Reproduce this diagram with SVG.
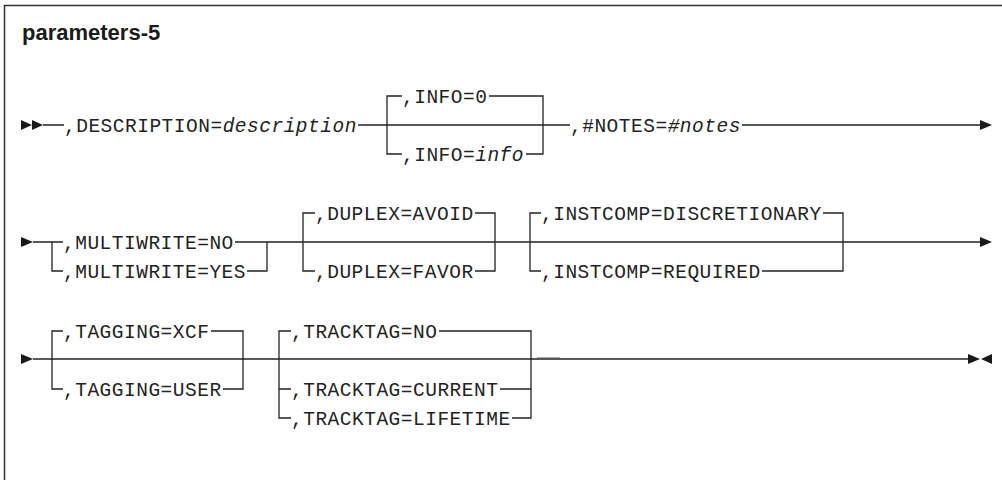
<svg xmlns="http://www.w3.org/2000/svg" width="1002" height="480" viewBox="0 0 1002 480">
<style>
.t{font-family:"Liberation Mono","DejaVu Sans Mono",monospace;font-size:19.5px;letter-spacing:0.5px;fill:#222}
.i{font-style:italic}
.title{font-family:"Liberation Sans",Arial,sans-serif;font-weight:bold;font-size:22px;fill:#1a1a1a}
.ln{stroke:#222;stroke-width:1.3;fill:none}
.ah{fill:#1a1a1a;stroke:none}
.frame{stroke:#333;stroke-width:1.5;fill:none}
</style>
<rect width="1002" height="480" fill="#fff"/>
<path class="frame" d="M4.5,480 V5.5 H1002"/>
<g id="title"><text class="title" x="22" y="40">parameters-5</text></g>

<g id="connectors">
  <!-- row 1 -->
  <path class="ah" d="M21,120 L32,125 L21,130 Z M32,120 L43,125 L32,130 Z"/>
  <path class="ln" d="M43,125 H64 M358,125 H570 M742,125 H980"/>
  <path class="ln" d="M387,125 V154 H402 M387,125 V96 H402 M489,96 H543 V154 H526"/>
  <path class="ah" d="M980,120 L992,125 L980,130 Z"/>
  <!-- row 2 -->
  <path class="ah" d="M21,237 L33,242 L21,247 Z"/>
  <path class="ln" d="M33,242 H63 M235,242 H980"/>
  <path class="ln" d="M52,242 V271 H63 M247,271 H267 V242"/>
  <path class="ln" d="M303,242 V213 H315 M303,242 V271 H315 M475,213 H495 V271 H475"/>
  <path class="ln" d="M530,242 V213 H541 M530,242 V271 H541 M823,213 H843 V271 H762"/>
  <path class="ah" d="M980,237 L992,242 L980,247 Z"/>
  <!-- row 3 -->
  <path class="ah" d="M21,354 L33,359 L21,364 Z"/>
  <path class="ln" d="M33,359 H968"/>
  <path class="ln" d="M52,359 V331 H63 M52,359 V389 H63 M211,331 H243 V389 H223"/>
  <path class="ln" d="M279,359 V331 H291 M279,359 V418 H291 M279,389 H291 M439,331 H531 V418 H512 M500,389 H531"/>
  <path d="M537,358.3 H560" stroke="#555" stroke-width="1.6"/>
  <path class="ah" d="M968,354 L980,359 L968,364 Z M992,354 L981,359 L992,364 Z"/>
</g>

<g id="description"><text class="t" x="64" y="131.5">,DESCRIPTION=<tspan class="i">description</tspan></text></g>
<g id="info-0"><text class="t" x="402" y="102.5">,INFO=0</text></g>
<g id="info-info"><text class="t" x="402" y="160.5">,INFO=<tspan class="i">info</tspan></text></g>
<g id="notes"><text class="t" x="570" y="131.5">,#NOTES=<tspan class="i">#notes</tspan></text></g>

<g id="multiwrite-no"><text class="t" x="63" y="248.5">,MULTIWRITE=NO</text></g>
<g id="multiwrite-yes"><text class="t" x="63" y="277.5">,MULTIWRITE=YES</text></g>
<g id="duplex-avoid"><text class="t" x="315" y="219.5">,DUPLEX=AVOID</text></g>
<g id="duplex-favor"><text class="t" x="315" y="277.5">,DUPLEX=FAVOR</text></g>
<g id="instcomp-discretionary"><text class="t" x="541" y="219.5">,INSTCOMP=DISCRETIONARY</text></g>
<g id="instcomp-required"><text class="t" x="541" y="277.5">,INSTCOMP=REQUIRED</text></g>

<g id="tagging-xcf"><text class="t" x="63" y="337.5">,TAGGING=XCF</text></g>
<g id="tagging-user"><text class="t" x="63" y="395.5">,TAGGING=USER</text></g>
<g id="tracktag-no"><text class="t" x="291" y="337.5">,TRACKTAG=NO</text></g>
<g id="tracktag-current"><text class="t" x="291" y="395.5">,TRACKTAG=CURRENT</text></g>
<g id="tracktag-lifetime"><text class="t" x="291" y="424.5">,TRACKTAG=LIFETIME</text></g>
</svg>
